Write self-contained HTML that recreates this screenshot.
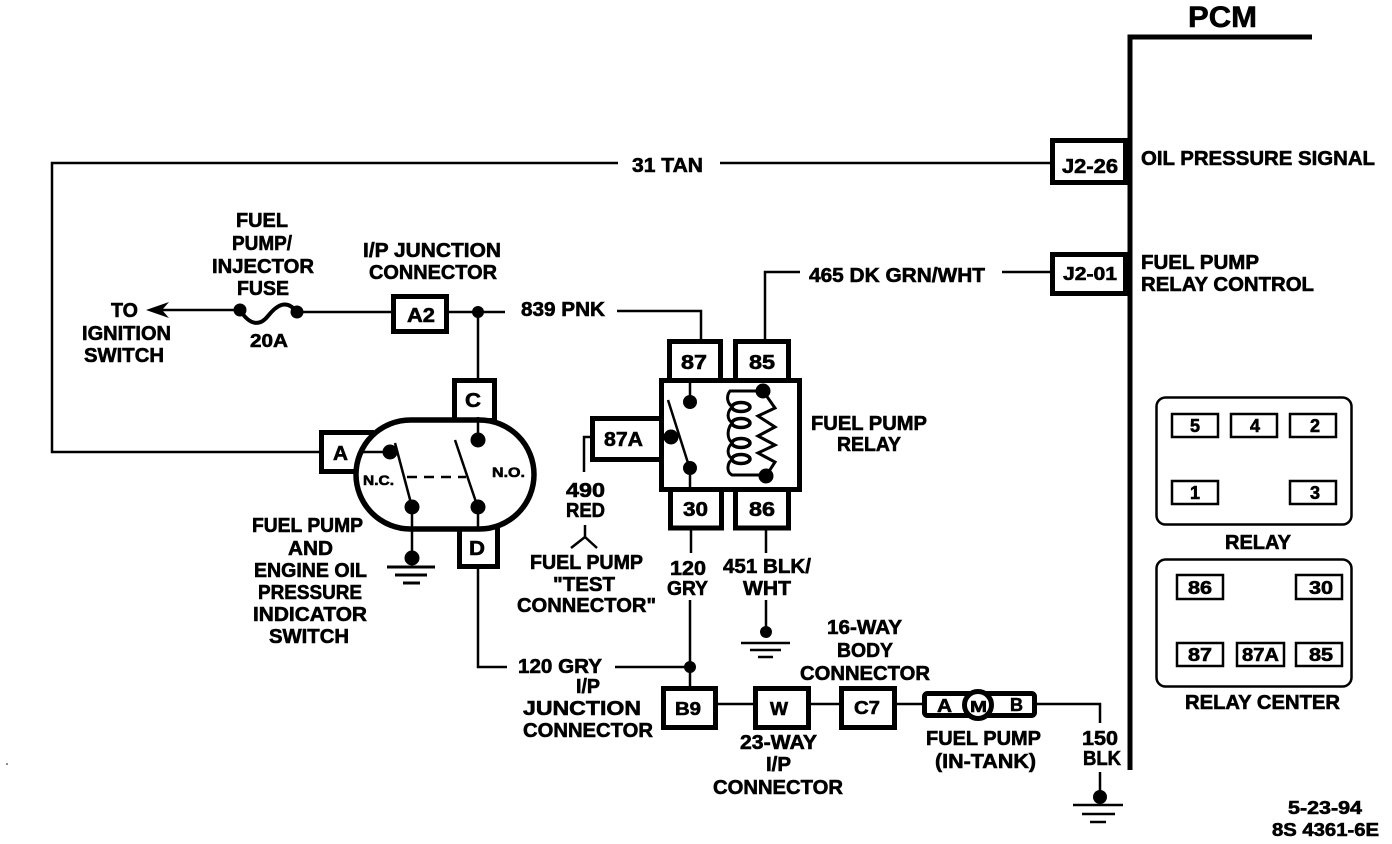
<!DOCTYPE html>
<html><head><meta charset="utf-8"><style>
html,body{margin:0;padding:0;background:#fff}
svg{display:block}
text{font-family:"Liberation Sans",sans-serif;font-weight:700;font-size:20px;fill:#000;stroke:#000;stroke-width:.6px}
.s{font-size:18px}.xs{font-size:14px}
.l{fill:none;stroke:#000;stroke-width:2.5}
.b{fill:#fff;stroke:#000;stroke-width:5}
.p{fill:#fff;stroke:#000;stroke-width:2.5}
</style></head><body>
<svg width="1392" height="844" viewBox="0 0 1392 844" xmlns="http://www.w3.org/2000/svg">
<rect width="1392" height="844" fill="#fff"/>
<path d="M1130 770V37H1312" fill="none" stroke="#000" stroke-width="5"/>
<path class="l" d="M618 163H52V452H320M720 163H1052M1126 163H1130M1126 272H1130"/>
<path class="l" d="M765 340V272H800M1002 272H1052"/>
<path class="l" d="M160 310H240M297 312H391M448 312H505M478 312V380M617 311H701V340"/>
<path class="l" d="M478 417V440M478 507V532M478 568V667H507M615 667H690M691 530V553M690 600V686M766 530V553M766 600V632"/>
<path class="l" d="M718 704H753M811 704H839M897 704H922M1037 704H1100V723M1100 772V797M412 507V558M584 472V437H592"/>
<path class="l" d="M585 525V537L571 548M585 537L597 548"/>
<path d="M146 310L169 302L162 310L169 318Z"/>
<circle cx="240" cy="310" r="6.5"/><circle cx="297" cy="312" r="6.5"/>
<path d="M240 310C250 326 260 326 268 316S286 298 297 312" fill="none" stroke="#000" stroke-width="4"/>
<circle cx="478" cy="312" r="6"/><circle cx="690" cy="667" r="6"/>
<rect class="b" x="1052.500" y="140.500" width="73" height="42"/>
<rect class="b" x="1052.500" y="254.500" width="73" height="39"/>
<rect class="b" x="393.500" y="296.500" width="53" height="35"/>
<rect class="b" x="321.500" y="432.500" width="50" height="39"/>
<rect class="b" x="454.500" y="380.500" width="40" height="40"/>
<rect class="b" x="459.500" y="525.500" width="38" height="41"/>
<rect x="356" y="420" width="178" height="109" rx="54.500" fill="#fff" stroke="#000" stroke-width="5.500"/>
<path d="M362 452H390M478 417V440M478 507V530M412 507V530" class="l"/>
<circle cx="478" cy="440" r="7.500"/><circle cx="390" cy="452" r="7.500"/><circle cx="412" cy="507" r="7.500"/><circle cx="478" cy="507" r="7.500"/>
<path class="l" d="M395 443L412 507M455 440L477 505"/>
<path d="M407 477H466" fill="none" stroke="#000" stroke-width="2.500" stroke-dasharray="10 7"/>
<circle cx="412" cy="558" r="7.500"/>
<path d="M387 567H435" stroke="#000" stroke-width="3"/><path d="M395 575H427" stroke="#000" stroke-width="3"/><path d="M403 583H420" stroke="#000" stroke-width="3"/>
<rect class="b" x="669.500" y="341.500" width="51" height="40"/>
<rect class="b" x="735.500" y="341.500" width="53" height="40"/>
<rect class="b" x="670.500" y="488.500" width="51" height="39.500"/>
<rect class="b" x="735.500" y="488.500" width="53" height="39.500"/>
<rect class="b" x="592.500" y="418.500" width="70" height="41"/>
<rect class="b" x="661.500" y="380.500" width="138" height="109"/>
<path class="l" d="M690 382V402M690 467V489M668 400L688 463"/>
<circle cx="690" cy="402" r="7"/><circle cx="690" cy="468" r="7"/><circle cx="671" cy="437" r="7.500"/>
<path d="M763 391H730C726 396 727 404 733 407C727 410 726 420 733 423C727 426 726 440 733 443C727 446 726 456 733 459C727 462 726 472 732 475H766" fill="none" stroke="#000" stroke-width="3"/>
<g fill="#fff" stroke="#000" stroke-width="3.500"><ellipse cx="741" cy="407" rx="9" ry="4.500"/><ellipse cx="741" cy="423" rx="9" ry="4.500"/><ellipse cx="741" cy="443" rx="9" ry="4.500"/><ellipse cx="741" cy="459" rx="9" ry="4.500"/></g>
<path d="M763 391L775 408L758 416L775 427L758 436L775 445L758 453L775 462L766 476" fill="none" stroke="#000" stroke-width="3"/>
<circle cx="763" cy="391" r="7.500"/><circle cx="766" cy="476" r="7.500"/>
<circle cx="766" cy="632" r="6"/>
<path d="M741 643H790" stroke="#000" stroke-width="2.500"/><path d="M750 650H781" stroke="#000" stroke-width="2.500"/><path d="M758 657H773" stroke="#000" stroke-width="2.500"/>
<circle cx="1100" cy="797" r="7"/>
<path d="M1073 805H1123" stroke="#000" stroke-width="2.500"/><path d="M1082 814H1115" stroke="#000" stroke-width="2.500"/><path d="M1090 822H1106" stroke="#000" stroke-width="2.500"/>
<rect class="b" x="663.500" y="688.500" width="52" height="39"/>
<rect class="b" x="755.500" y="688.500" width="53" height="39"/>
<rect class="b" x="841.500" y="688.500" width="53" height="39"/>
<rect class="b" x="924.500" y="693.500" width="110" height="22" rx="3"/>
<circle cx="978" cy="705" r="13.500" fill="#fff" stroke="#000" stroke-width="5"/>
<rect class="p" x="1156.500" y="397.500" width="195" height="127" rx="9"/>
<rect class="p" x="1156.500" y="559.500" width="195" height="127" rx="9"/>
<rect class="p" x="1172" y="414" width="46" height="23"/><rect class="p" x="1231" y="414" width="46" height="23"/><rect class="p" x="1290" y="414" width="46" height="23"/>
<rect class="p" x="1172" y="481" width="46" height="23"/><rect class="p" x="1290" y="481" width="46" height="23"/>
<rect class="p" x="1177" y="575" width="46" height="24"/><rect class="p" x="1296" y="575" width="46" height="24"/>
<rect class="p" x="1177" y="643" width="46" height="23"/><rect class="p" x="1237" y="643" width="47" height="23"/><rect class="p" x="1296" y="643" width="46" height="23"/>
<circle cx="7" cy="764" r=".8"/>

<text x="1188" y="27" style="font-size:30px" textLength="69" lengthAdjust="spacingAndGlyphs">PCM</text>
<text x="632" y="172" textLength="71" lengthAdjust="spacingAndGlyphs">31 TAN</text>
<text x="1062" y="173" textLength="56" lengthAdjust="spacingAndGlyphs">J2-26</text>
<text x="1141" y="165" textLength="234" lengthAdjust="spacingAndGlyphs">OIL PRESSURE SIGNAL</text>
<text x="1141" y="269" textLength="118" lengthAdjust="spacingAndGlyphs">FUEL PUMP</text>
<text x="1141" y="291" textLength="173" lengthAdjust="spacingAndGlyphs">RELAY CONTROL</text>
<text class="s" x="1063" y="280" textLength="54" lengthAdjust="spacingAndGlyphs">J2-01</text>
<text x="809" y="282" textLength="176" lengthAdjust="spacingAndGlyphs">465 DK GRN/WHT</text>
<text x="236" y="227" textLength="52" lengthAdjust="spacingAndGlyphs">FUEL</text>
<text x="232" y="250" textLength="60" lengthAdjust="spacingAndGlyphs">PUMP/</text>
<text x="212" y="273" textLength="102" lengthAdjust="spacingAndGlyphs">INJECTOR</text>
<text x="237" y="295" textLength="52" lengthAdjust="spacingAndGlyphs">FUSE</text>
<text class="s" x="250" y="347" textLength="38" lengthAdjust="spacingAndGlyphs">20A</text>
<text x="111" y="317" textLength="27" lengthAdjust="spacingAndGlyphs">TO</text>
<text x="82" y="340" textLength="89" lengthAdjust="spacingAndGlyphs">IGNITION</text>
<text x="84" y="362" textLength="80" lengthAdjust="spacingAndGlyphs">SWITCH</text>
<text x="363" y="257" textLength="138" lengthAdjust="spacingAndGlyphs">I/P JUNCTION</text>
<text x="369" y="279" textLength="128" lengthAdjust="spacingAndGlyphs">CONNECTOR</text>
<text x="407" y="322" textLength="28" lengthAdjust="spacingAndGlyphs">A2</text>
<text x="521" y="316" textLength="84" lengthAdjust="spacingAndGlyphs">839 PNK</text>
<text x="465" y="407" textLength="16" lengthAdjust="spacingAndGlyphs">C</text>
<text x="333" y="460" textLength="15" lengthAdjust="spacingAndGlyphs">A</text>
<text x="469" y="555" textLength="16" lengthAdjust="spacingAndGlyphs">D</text>
<text class="xs" x="363" y="485" textLength="31" lengthAdjust="spacingAndGlyphs">N.C.</text>
<text class="xs" x="492" y="477" textLength="33" lengthAdjust="spacingAndGlyphs">N.O.</text>
<text x="252" y="532" textLength="111" lengthAdjust="spacingAndGlyphs">FUEL PUMP</text>
<text x="288" y="555" textLength="45" lengthAdjust="spacingAndGlyphs">AND</text>
<text x="254" y="577" textLength="113" lengthAdjust="spacingAndGlyphs">ENGINE OIL</text>
<text x="258" y="599" textLength="104" lengthAdjust="spacingAndGlyphs">PRESSURE</text>
<text x="253" y="621" textLength="114" lengthAdjust="spacingAndGlyphs">INDICATOR</text>
<text x="269" y="643" textLength="80" lengthAdjust="spacingAndGlyphs">SWITCH</text>
<text x="681" y="369" textLength="26" lengthAdjust="spacingAndGlyphs">87</text>
<text x="749" y="369" textLength="26" lengthAdjust="spacingAndGlyphs">85</text>
<text x="683" y="516" textLength="25" lengthAdjust="spacingAndGlyphs">30</text>
<text x="749" y="516" textLength="26" lengthAdjust="spacingAndGlyphs">86</text>
<text x="604" y="446" textLength="39" lengthAdjust="spacingAndGlyphs">87A</text>
<text x="811" y="430" textLength="116" lengthAdjust="spacingAndGlyphs">FUEL PUMP</text>
<text x="837" y="451" textLength="64" lengthAdjust="spacingAndGlyphs">RELAY</text>
<text x="566" y="497" textLength="39" lengthAdjust="spacingAndGlyphs">490</text>
<text x="566" y="517" textLength="39" lengthAdjust="spacingAndGlyphs">RED</text>
<text x="530" y="569" textLength="113" lengthAdjust="spacingAndGlyphs">FUEL PUMP</text>
<text x="553" y="591" textLength="62" lengthAdjust="spacingAndGlyphs">"TEST</text>
<text x="517" y="612" textLength="139" lengthAdjust="spacingAndGlyphs">CONNECTOR"</text>
<text x="670" y="575" textLength="36" lengthAdjust="spacingAndGlyphs">120</text>
<text x="667" y="595" textLength="41" lengthAdjust="spacingAndGlyphs">GRY</text>
<text x="723" y="573" textLength="88" lengthAdjust="spacingAndGlyphs">451 BLK/</text>
<text x="743" y="595" textLength="48" lengthAdjust="spacingAndGlyphs">WHT</text>
<text x="518" y="673" textLength="84" lengthAdjust="spacingAndGlyphs">120 GRY</text>
<text x="576" y="693" textLength="24" lengthAdjust="spacingAndGlyphs">I/P</text>
<text x="523" y="715" textLength="118" lengthAdjust="spacingAndGlyphs">JUNCTION</text>
<text x="523" y="737" textLength="130" lengthAdjust="spacingAndGlyphs">CONNECTOR</text>
<text x="827" y="634" textLength="75" lengthAdjust="spacingAndGlyphs">16-WAY</text>
<text x="837" y="657" textLength="56" lengthAdjust="spacingAndGlyphs">BODY</text>
<text x="800" y="680" textLength="130" lengthAdjust="spacingAndGlyphs">CONNECTOR</text>
<text class="s" x="675" y="715" textLength="26" lengthAdjust="spacingAndGlyphs">B9</text>
<text class="s" x="770" y="715" textLength="18" lengthAdjust="spacingAndGlyphs">W</text>
<text class="s" x="854" y="714" textLength="26" lengthAdjust="spacingAndGlyphs">C7</text>
<text class="s" x="937" y="712" textLength="15" lengthAdjust="spacingAndGlyphs">A</text>
<text x="970" y="712" style="font-size:16px" textLength="17" lengthAdjust="spacingAndGlyphs">M</text>
<text class="s" x="1010" y="711" textLength="13" lengthAdjust="spacingAndGlyphs">B</text>
<text x="740" y="749" textLength="77" lengthAdjust="spacingAndGlyphs">23-WAY</text>
<text x="766" y="771" textLength="25" lengthAdjust="spacingAndGlyphs">I/P</text>
<text x="713" y="794" textLength="130" lengthAdjust="spacingAndGlyphs">CONNECTOR</text>
<text x="926" y="745" textLength="115" lengthAdjust="spacingAndGlyphs">FUEL PUMP</text>
<text x="935" y="768" textLength="101" lengthAdjust="spacingAndGlyphs">(IN-TANK)</text>
<text x="1082" y="745" textLength="36" lengthAdjust="spacingAndGlyphs">150</text>
<text x="1083" y="765" textLength="38" lengthAdjust="spacingAndGlyphs">BLK</text>
<text class="s" x="1190" y="432">5</text><text class="s" x="1250" y="432">4</text><text class="s" x="1310" y="432">2</text>
<text class="s" x="1190" y="499">1</text><text class="s" x="1310" y="499">3</text>
<text x="1225" y="549" textLength="66" lengthAdjust="spacingAndGlyphs">RELAY</text>
<text class="s" x="1188" y="594" textLength="24" lengthAdjust="spacingAndGlyphs">86</text>
<text class="s" x="1309" y="594" textLength="24" lengthAdjust="spacingAndGlyphs">30</text>
<text class="s" x="1188" y="661" textLength="24" lengthAdjust="spacingAndGlyphs">87</text>
<text class="s" x="1242" y="661" textLength="37" lengthAdjust="spacingAndGlyphs">87A</text>
<text class="s" x="1309" y="661" textLength="24" lengthAdjust="spacingAndGlyphs">85</text>
<text x="1185" y="709" textLength="155" lengthAdjust="spacingAndGlyphs">RELAY CENTER</text>
<text class="s" x="1288" y="814" textLength="74" lengthAdjust="spacingAndGlyphs">5-23-94</text>
<text class="s" x="1272" y="836" textLength="107" lengthAdjust="spacingAndGlyphs">8S 4361-6E</text>
</svg>
</body></html>
